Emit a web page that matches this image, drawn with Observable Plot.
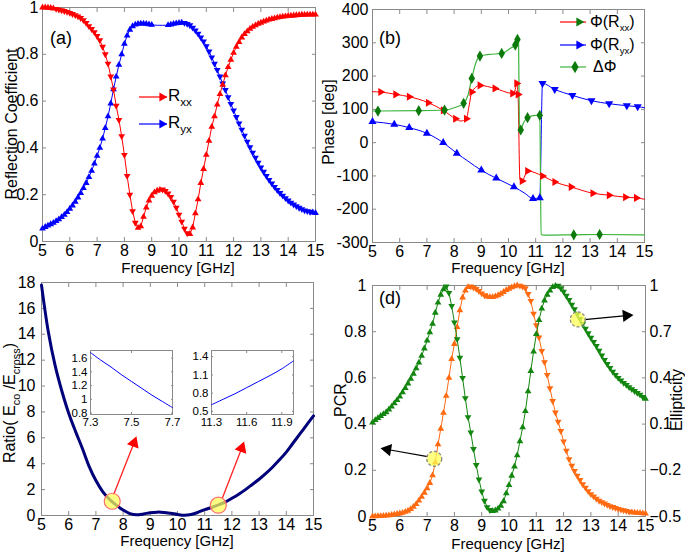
<!DOCTYPE html>
<html><head><meta charset="utf-8">
<script src="https://cdn.jsdelivr.net/npm/d3@7"></script>
<script src="https://cdn.jsdelivr.net/npm/@observablehq/plot@0.6"></script>
<style>
body{margin:0;background:#fff;}
#wrap{position:relative;width:685px;height:556px;overflow:hidden;background:#fff;}
</style></head><body><div id="wrap"></div>
<script>
// ---------- data ----------
const freqTicks = [5,6,7,8,9,10,11,12,13,14,15];
const freqGrid = [5.0,5.1,5.2,5.3,5.4,5.5,5.6,5.7,5.8,5.9,6.0,6.1,6.2,6.3,6.4,6.5,6.6,6.7,6.8,6.9,7.0,7.1,7.2,7.3,7.4,7.5,7.6,7.7,7.8,7.9,8.0,8.1,8.2,8.3,8.4,8.5,8.6,8.7,8.8,8.9,9.0,9.1,9.2,9.3,9.4,9.5,9.6,9.7,9.8,9.9,10.0,10.1,10.2,10.3,10.4,10.5,10.6,10.7,10.8,10.9,11.0,11.1,11.2,11.3,11.4,11.5,11.6,11.7,11.8,11.9,12.0,12.1,12.2,12.3,12.4,12.5,12.6,12.7,12.8,12.9,13.0,13.1,13.2,13.3,13.4,13.5,13.6,13.7,13.8,13.9,14.0,14.1,14.2,14.3,14.4,14.5,14.6,14.7,14.8,14.9,15.0];

// (a) reflection coefficients
const rxx = [1.000,1.000,0.999,0.998,0.996,0.994,0.991,0.988,0.985,0.981,
0.977,0.972,0.967,0.962,0.955,0.946,0.934,0.920,0.908,0.895,
0.878,0.860,0.832,0.800,0.760,0.705,0.650,0.580,0.520,0.450,
0.370,0.280,0.200,0.130,0.080,0.058,0.065,0.105,0.145,0.175,
0.195,0.210,0.217,0.221,0.222,0.216,0.205,0.190,0.170,0.145,
0.115,0.085,0.055,0.035,0.032,0.060,0.120,0.180,0.250,0.310,
0.370,0.430,0.490,0.535,0.585,0.630,0.670,0.710,0.745,0.777,
0.806,0.832,0.852,0.872,0.886,0.898,0.909,0.917,0.924,0.930,
0.935,0.940,0.944,0.948,0.951,0.954,0.957,0.959,0.961,0.962,
0.964,0.965,0.966,0.967,0.968,0.969,0.969,0.970,0.970,0.970,
0.970];
const ryx = [0.055,0.062,0.068,0.074,0.080,0.087,0.095,0.104,0.114,0.126,
0.140,0.154,0.170,0.188,0.207,0.228,0.250,0.275,0.302,0.333,
0.366,0.400,0.440,0.485,0.535,0.590,0.650,0.705,0.755,0.800,
0.845,0.880,0.905,0.920,0.927,0.930,0.931,0.931,0.930,0.928,
0.926,0.925,0.924,0.924,0.924,0.924,0.925,0.927,0.930,0.932,
0.934,0.935,0.934,0.930,0.924,0.914,0.902,0.888,0.872,0.855,
0.835,0.812,0.787,0.760,0.733,0.705,0.675,0.648,0.617,0.588,
0.560,0.532,0.505,0.478,0.452,0.427,0.403,0.380,0.358,0.337,
0.317,0.298,0.280,0.263,0.248,0.233,0.220,0.207,0.196,0.185,
0.175,0.166,0.158,0.151,0.144,0.138,0.133,0.130,0.127,0.124,
0.122];
const coefTicks = [0,0.2,0.4,0.6,0.8,1];

// (b) phases
const phaseTicks = [-300,-200,-100,0,100,200,300,400];
const phiRxxF = [5.0,5.3,5.85,6.35,7.05,7.6,8.05,8.25,8.45,8.55,8.65,8.95,9.5,10.15,10.25,10.3,10.35,10.42,10.5,10.7,11.25,11.7,12.3,13.1,13.7,14.3,14.7,15.0];
const phiRxx  = [153,152,145,138,120,97,72,65,72,110,152,172,163,148,160,178,145,-110,-115,-85,-100,-118,-133,-152,-158,-164,-166,-170];
const phiRxxMark = [0,1,1,1,1,1,1,0,1,0,1,1,1,1,0,1,1,0,1,1,1,1,1,1,1,1,1,0];
const phiRyxF = [5.0,5.8,6.35,7.0,7.6,8.1,8.5,9.0,9.55,10.2,10.6,10.9,11.15,11.25,11.7,12.35,13.05,13.7,14.35,14.75,15.0];
const phiRyx  = [63,55,45,28,0,-32,-55,-83,-107,-133,-152,-168,-166,178,160,142,126,117,111,108,105];
const phiRyxMark = [1,1,1,1,1,1,0,1,1,1,0,1,1,1,1,1,1,1,1,1,0];
const dPhiF = [5.0,5.2,6.7,7.65,8.0,8.35,8.5,8.65,8.8,8.95,9.3,9.75,10.1,10.25,10.33,10.37,10.4,10.45,10.55,10.7,11.0,11.15,11.2,11.3,12.4,13.35,15.0];
const dPhi  = [95,95,96,98,105,118,140,193,240,260,265,268,285,293,310,305,40,38,60,75,82,82,-276,-278,-277,-276,-277];
const dPhiMark = [0,1,1,1,0,1,0,1,0,1,0,1,0,1,1,0,0,1,0,1,0,1,0,0,1,1,0];

// (c) ratio E_co / E_cross
const ratioTicks = [0,2,4,6,8,10,12,14,16,18];
const ratioF = [5.0,5.25,5.5,5.75,6.0,6.25,6.5,6.75,7.0,7.25,7.5,7.75,8.0,8.25,8.5,8.75,9.0,9.25,9.5,9.75,10.0,10.25,10.5,10.75,11.0,11.25,11.5,11.75,12.0,12.25,12.5,12.75,13.0,13.25,13.5,13.75,14.0,14.25,14.5,14.75,15.0];
const ratio  = [17.8,14.2,11.6,9.6,7.9,6.5,5.2,3.8,2.7,1.85,1.25,0.8,0.42,0.15,0.05,0.12,0.22,0.26,0.24,0.17,0.08,0.02,0.08,0.24,0.45,0.62,0.82,1.03,1.33,1.65,2.0,2.4,2.8,3.25,3.75,4.3,4.9,5.6,6.3,7.0,7.7];
const inset1F = [7.3,7.35,7.4,7.45,7.5,7.55,7.6,7.65,7.7];
const inset1  = [1.68,1.57,1.47,1.36,1.26,1.16,1.06,0.97,0.88];
const inset1XTicks = [7.3,7.5,7.7];
const inset1YTicks = [0.8,1,1.2,1.4,1.6];
const inset2F = [11.3,11.4,11.5,11.6,11.7,11.8,11.9,12.0];
const inset2  = [0.61,0.70,0.79,0.89,0.99,1.09,1.20,1.33];
const inset2XTicks = [11.3,11.6,11.9];
const inset2YTicks = [0.5,0.8,1.1,1.4];
const highlightC = [{f: 7.6, v: 1.1}, {f: 11.5, v: 0.8}];
const arrowsC = [{f1: 7.65, v1: 1.6, f2: 8.4, v2: 5.6, rot: 20}, {f1: 11.64, v1: 1.3, f2: 12.36, v2: 5.2, rot: 20}];

// (d) PCR and ellipticity
const pcrTicks = [0,0.2,0.4,0.6,0.8,1];
const ellTicks = [-0.5,-0.2,0.1,0.4,0.7,1];
const pcr = [0.001,0.001,0.002,0.002,0.003,0.004,0.005,0.007,0.009,0.011,
0.013,0.016,0.020,0.025,0.032,0.042,0.054,0.069,0.085,0.103,
0.122,0.145,0.178,0.235,0.312,0.380,0.449,0.522,0.600,0.682,
0.747,0.820,0.893,0.948,0.978,0.993,0.996,0.991,0.985,0.976,
0.966,0.958,0.952,0.950,0.950,0.953,0.958,0.964,0.972,0.980,
0.986,0.992,0.997,1.000,0.999,0.995,0.988,0.963,0.933,0.878,
0.828,0.775,0.717,0.668,0.613,0.555,0.500,0.450,0.410,0.370,
0.325,0.285,0.248,0.220,0.197,0.177,0.158,0.140,0.125,0.110,
0.097,0.087,0.077,0.068,0.062,0.056,0.050,0.045,0.041,0.037,
0.033,0.030,0.027,0.024,0.021,0.018,0.017,0.016,0.015,0.014,
0.013];
const ellipticity = [0.110,0.126,0.139,0.153,0.165,0.177,0.195,0.214,0.235,0.256,
0.279,0.306,0.334,0.364,0.394,0.426,0.462,0.499,0.543,0.591,
0.642,0.696,0.751,0.823,0.889,0.940,0.976,0.994,0.952,0.868,
0.760,0.652,0.531,0.400,0.268,0.145,0.046,-0.062,-0.166,-0.260,
-0.338,-0.398,-0.439,-0.458,-0.464,-0.461,-0.449,-0.430,-0.401,-0.350,
-0.296,-0.235,-0.175,-0.103,-0.011,0.079,0.184,0.313,0.445,0.571,
0.684,0.775,0.850,0.903,0.940,0.967,0.990,0.997,0.999,0.982,
0.960,0.933,0.906,0.876,0.846,0.814,0.783,0.751,0.720,0.690,
0.661,0.634,0.607,0.577,0.546,0.517,0.490,0.465,0.441,0.420,
0.400,0.384,0.367,0.354,0.340,0.327,0.315,0.303,0.291,0.277,
0.264];
const highlightD = [{f: 7.26, pcr: 0.25, ell: null}, {f: 12.52, pcr: null, ell: 0.78}];
const arrowsD = [{f1: 7.02, pcr1: 0.259, f2: 5.55, pcr2: 0.29, ell1: null, ell2: null, rot: -80},
                 {f1: 12.76, pcr1: null, f2: 14.3, pcr2: null, ell1: 0.778, ell2: 0.805, rot: 85}];

// ---------- styling ----------
const FONT = "'Liberation Sans', Arial, Helvetica, sans-serif";
const GRAY = "#8a8a8a";
const RED = "#ff0000", BLUE = "#0000ff", NAVY = "#00007a";
const GREEN_LINE = "#3cb43c", GREEN_MARK = "#0b7a0b";
const ORANGE = "#ff6a10", GREEN_D = "#13860f";
const baseStyle = {fontFamily: FONT, fontSize: "16px", background: "transparent", overflow: "visible", color: "#000"};
const fmtHyphen = v => { const r = Math.round(v * 1000) / 1000; return (r < 0 ? "-" : "") + Math.abs(r); };

const wrap = document.getElementById("wrap");
function mount(svg, left, top) {
  svg.style.position = "absolute"; svg.style.left = left + "px"; svg.style.top = top + "px";
  svg.style.maxWidth = "none"; wrap.appendChild(svg); return svg;
}
function box(xt, yt, {ypad = 4, xpad = 4, font = 16, tick = 4} = {}) {
  return [
    Plot.frame({stroke: GRAY, strokeWidth: 1}),
    Plot.axisX({ticks: xt, anchor: "bottom", tickSize: -tick, tickFormat: () => "", color: GRAY, label: null}),
    Plot.axisX({ticks: xt, anchor: "top", tickSize: -tick, tickFormat: () => "", color: GRAY, label: null}),
    Plot.axisY({ticks: yt, anchor: "left", tickSize: -tick, tickFormat: () => "", color: GRAY, label: null}),
    Plot.axisY({ticks: yt, anchor: "right", tickSize: -tick, tickFormat: () => "", color: GRAY, label: null}),
    Plot.axisX({ticks: xt, anchor: "bottom", tickSize: 0, tickPadding: xpad, fontSize: font, color: "#000", label: null, tickFormat: fmtHyphen}),
    Plot.axisY({ticks: yt, anchor: "left", tickSize: 0, tickPadding: ypad, fontSize: font, color: "#000", label: null, tickFormat: fmtHyphen})
  ];
}
function addText(svg, x, y, parts, {size = 15, anchor = "start", rotate = 0, subScale = 0.68, subShift = 0.3} = {}) {
  const t = d3.select(svg).append("text")
    .attr("font-family", FONT).attr("font-size", size).attr("fill", "#000").attr("text-anchor", anchor);
  if (rotate) t.attr("transform", `translate(${x},${y}) rotate(${rotate})`);
  else t.attr("x", x).attr("y", y);
  let shifted = 0;
  for (const p of parts) {
    const isSub = Array.isArray(p);
    const s = t.append("tspan").text(isSub ? p[0] : p);
    if (isSub) {
      s.attr("font-size", size * subScale);
      const dy = size * subShift - shifted; if (dy) s.attr("dy", dy); shifted = size * subShift;
    } else {
      if (shifted) s.attr("dy", -shifted); shifted = 0;
    }
  }
}
function legendSample(svg, x1, x2, y, lineColor, markColor, symbol, markX, rot, area) {
  const g = d3.select(svg).append("g");
  g.append("line").attr("x1", x1).attr("x2", x2).attr("y1", y).attr("y2", y)
    .attr("stroke", lineColor).attr("stroke-width", 1.2);
  g.append("path").attr("d", d3.symbol(symbol, area)())
    .attr("transform", `translate(${markX},${y}) rotate(${rot})`).attr("fill", markColor);
}
const slopeRot = (arr, i) => (i < arr.length - 1 ? (arr[i + 1] < arr[i] - 0.002 ? 180 : 0) : 0);

// ---------- (a) ----------
const rowsA = freqGrid.map((f, i) => ({f, rxx: rxx[i], ryx: ryx[i], rr: slopeRot(rxx, i), ry: slopeRot(ryx, i)}));
const svgA = mount(Plot.plot({
  width: 320, height: 275, marginLeft: 42, marginRight: 5, marginTop: 7, marginBottom: 34,
  style: baseStyle, x: {domain: [5, 15]}, y: {domain: [0, 1]},
  marks: [
    ...box(freqTicks, coefTicks, {ypad: 4, xpad: 3}),
    Plot.line(rowsA, {x: "f", y: "ryx", stroke: BLUE, strokeWidth: 1}),
    Plot.line(rowsA, {x: "f", y: "rxx", stroke: RED, strokeWidth: 1}),
    Plot.dot(rowsA.filter(d => !(d.f > 9.05 && d.f < 9.55)), {x: "f", y: "ryx", symbol: "triangle", r: 2.5, fill: BLUE, rotate: "ry"}),
    Plot.dot(rowsA, {x: "f", y: "rxx", symbol: "triangle", r: 2.5, fill: RED, rotate: "rr"})
  ]
}), 0, 0);
addText(svgA, 17, 124, ["Reflection Coefficient"], {size: 16, anchor: "middle", rotate: -90});
addText(svgA, 178, 273, ["Frequency [GHz]"], {size: 15, anchor: "middle"});
addText(svgA, 50, 44, ["(a)"], {size: 18});
legendSample(svgA, 139, 167, 97, RED, RED, d3.symbolTriangle, 162, 90, 36);
addText(svgA, 168, 101, ["R", ["xx"]], {size: 17});
legendSample(svgA, 139, 167, 124, BLUE, BLUE, d3.symbolTriangle, 162, 90, 36);
addText(svgA, 168, 128, ["R", ["yx"]], {size: 17});

// ---------- (b) ----------
const rowsRxx = phiRxxF.map((f, i) => ({f, v: phiRxx[i], m: phiRxxMark[i]}));
const rowsRyx = phiRyxF.map((f, i) => ({f, v: phiRyx[i], m: phiRyxMark[i]}));
const rowsD = dPhiF.map((f, i) => ({f, v: dPhi[i], m: dPhiMark[i]}));
const svgB = mount(Plot.plot({
  width: 370, height: 275, marginLeft: 57, marginRight: 41, marginTop: 9, marginBottom: 33,
  style: baseStyle, x: {domain: [5, 15]}, y: {domain: [-300, 400]},
  marks: [
    ...box(freqTicks, phaseTicks, {ypad: 4, xpad: 3}),
    Plot.line(rowsRxx, {x: "f", y: "v", stroke: RED, strokeWidth: 1, curve: "monotone-x"}),
    Plot.line(rowsRyx, {x: "f", y: "v", stroke: BLUE, strokeWidth: 1, curve: "monotone-x"}),
    Plot.line(rowsD, {x: "f", y: "v", stroke: GREEN_LINE, strokeWidth: 1.2, curve: "monotone-x"}),
    Plot.dot(rowsRxx.filter(d => d.m), {x: "f", y: "v", symbol: "triangle", r: 3, fill: RED, rotate: 90}),
    Plot.dot(rowsRyx.filter(d => d.m), {x: "f", y: "v", symbol: "triangle", r: 3, fill: BLUE, rotate: d => (d.f > 11.2 ? 180 : 0)}),
    Plot.dot(rowsD.filter(d => d.m), {x: "f", y: "v", symbol: "diamond", r: 3.4, fill: GREEN_MARK})
  ]
}), 315, 0);
addText(svgB, 19, 122, ["Phase [deg]"], {size: 16, anchor: "middle", rotate: -90});
addText(svgB, 193, 273, ["Frequency [GHz]"], {size: 15, anchor: "middle"});
addText(svgB, 64, 44, ["(b)"], {size: 18});
legendSample(svgB, 245, 271, 22, RED, GREEN_MARK, d3.symbolTriangle, 264, 90, 36);
addText(svgB, 275, 27, ["Φ(R", ["xx"], ")"], {size: 16, subScale: 0.6, subShift: 0.25});
legendSample(svgB, 245, 271, 45, BLUE, BLUE, d3.symbolTriangle, 264, 90, 36);
addText(svgB, 275, 50, ["Φ(R", ["yx"], ")"], {size: 16, subScale: 0.6, subShift: 0.25});
legendSample(svgB, 245, 271, 67, GREEN_LINE, GREEN_MARK, d3.symbolDiamond, 260, 0, 44);
addText(svgB, 278, 72, ["ΔΦ"], {size: 16});

// ---------- (c) ----------
const rowsC = ratioF.map((f, i) => ({f, v: ratio[i]}));
const svgC = mount(Plot.plot({
  width: 320, height: 281, marginLeft: 41, marginRight: 7, marginTop: 7, marginBottom: 41,
  style: baseStyle, x: {domain: [5, 15]}, y: {domain: [0, 18]},
  marks: [
    ...box(freqTicks, ratioTicks, {ypad: 6, xpad: 3}),
    Plot.line(rowsC, {x: "f", y: "v", stroke: NAVY, strokeWidth: 3, curve: "catmull-rom"}),
    Plot.link(arrowsC, {x1: "f1", y1: "v1", x2: "f2", y2: "v2", stroke: "#ff2020", strokeWidth: 1.3}),
    Plot.dot(arrowsC, {x: "f2", y: "v2", symbol: "triangle", r: 4.6, fill: "#ff0000", rotate: "rot"}),
    Plot.dot(highlightC, {x: "f", y: "v", r: 8, fill: "#ffff55", fillOpacity: 0.72, stroke: "#ff6e6e", strokeWidth: 1.2})
  ]
}), 0, 275);
addText(svgC, 15, 128, ["Ratio( E", ["co"], " /E", ["cross"], ")"], {size: 16, anchor: "middle", rotate: -90});
addText(svgC, 177, 271, ["Frequency [GHz]"], {size: 15, anchor: "middle"});

const rowsI1 = inset1F.map((f, i) => ({f, v: inset1[i]}));
mount(Plot.plot({
  width: 120, height: 95, marginLeft: 30, marginRight: 8, marginTop: 10, marginBottom: 21,
  style: {...baseStyle, fontSize: "11px"}, x: {domain: [7.3, 7.7]}, y: {domain: [0.78, 1.71]},
  marks: [
    ...box(inset1XTicks, inset1YTicks, {ypad: 3, xpad: 3, font: 11.5, tick: 2}),
    Plot.line(rowsI1, {x: "f", y: "v", stroke: BLUE, strokeWidth: 1, curve: "catmull-rom"})
  ]
}), 60, 340);
const rowsI2 = inset2F.map((f, i) => ({f, v: inset2[i]}));
mount(Plot.plot({
  width: 125, height: 95, marginLeft: 31, marginRight: 12, marginTop: 10, marginBottom: 21,
  style: {...baseStyle, fontSize: "11px"}, x: {domain: [11.3, 12.0]}, y: {domain: [0.45, 1.5]},
  marks: [
    ...box(inset2XTicks, inset2YTicks, {ypad: 3, xpad: 3, font: 11.5, tick: 2}),
    Plot.line(rowsI2, {x: "f", y: "v", stroke: BLUE, strokeWidth: 1, curve: "catmull-rom"})
  ]
}), 180, 340);

// ---------- (d) ----------
const toP = e => (e + 0.5) / 1.5;          // ellipticity axis (right) mapped onto PCR axis (left)
const fmtE = p => { const r = Math.round((1.5 * p - 0.5) * 10) / 10; return (r < 0 ? "−" : "") + Math.abs(r); };
const rowsDd = freqGrid.map((f, i) => ({f, pcr: pcr[i], ep: toP(ellipticity[i]), rp: slopeRot(pcr, i), re: slopeRot(ellipticity, i)}));
const hlD = highlightD.map(d => ({f: d.f, p: d.pcr != null ? d.pcr : toP(d.ell)}));
const arD = arrowsD.map(d => ({f1: d.f1, f2: d.f2, p1: d.pcr1 != null ? d.pcr1 : toP(d.ell1), p2: d.pcr2 != null ? d.pcr2 : toP(d.ell2), rot: d.rot}));
const svgD = mount(Plot.plot({
  width: 370, height: 281, marginLeft: 57, marginRight: 40, marginTop: 10, marginBottom: 40,
  style: baseStyle, x: {domain: [5, 15]}, y: {domain: [0, 1]},
  marks: [
    ...box(freqTicks, pcrTicks, {ypad: 6, xpad: 3}),
    Plot.axisY({ticks: ellTicks.map(toP), anchor: "right", tickSize: 0, tickPadding: 4, tickFormat: fmtE, fontSize: 16, color: "#000", label: null}),
    Plot.line(rowsDd, {x: "f", y: "pcr", stroke: ORANGE, strokeWidth: 1}),
    Plot.dot(rowsDd, {x: "f", y: "pcr", symbol: "triangle", r: 2.5, fill: ORANGE, rotate: "rp"}),
    Plot.line(rowsDd, {x: "f", y: "ep", stroke: GREEN_D, strokeWidth: 1}),
    Plot.dot(rowsDd, {x: "f", y: "ep", symbol: "triangle", r: 2.5, fill: GREEN_D, rotate: "re"}),
    Plot.link(arD, {x1: "f1", y1: "p1", x2: "f2", y2: "p2", stroke: "#000", strokeWidth: 1.2}),
    Plot.dot(arD, {x: "f2", y: "p2", symbol: "triangle", r: 4.6, fill: "#000", rotate: "rot"}),
    Plot.dot(hlD, {x: "f", y: "p", r: 7.5, fill: "#ffff55", fillOpacity: 0.75, stroke: "#888", strokeWidth: 1.3, strokeDasharray: "3,2"})
  ]
}), 315, 275);
addText(svgD, 31, 125, ["PCR"], {size: 16, anchor: "middle", rotate: -90});
addText(svgD, 367, 125, ["Ellipticity"], {size: 16, anchor: "middle", rotate: -90});
addText(svgD, 193, 274, ["Frequency [GHz]"], {size: 15, anchor: "middle"});
addText(svgD, 64, 29, ["(d)"], {size: 18});
</script></body></html>
